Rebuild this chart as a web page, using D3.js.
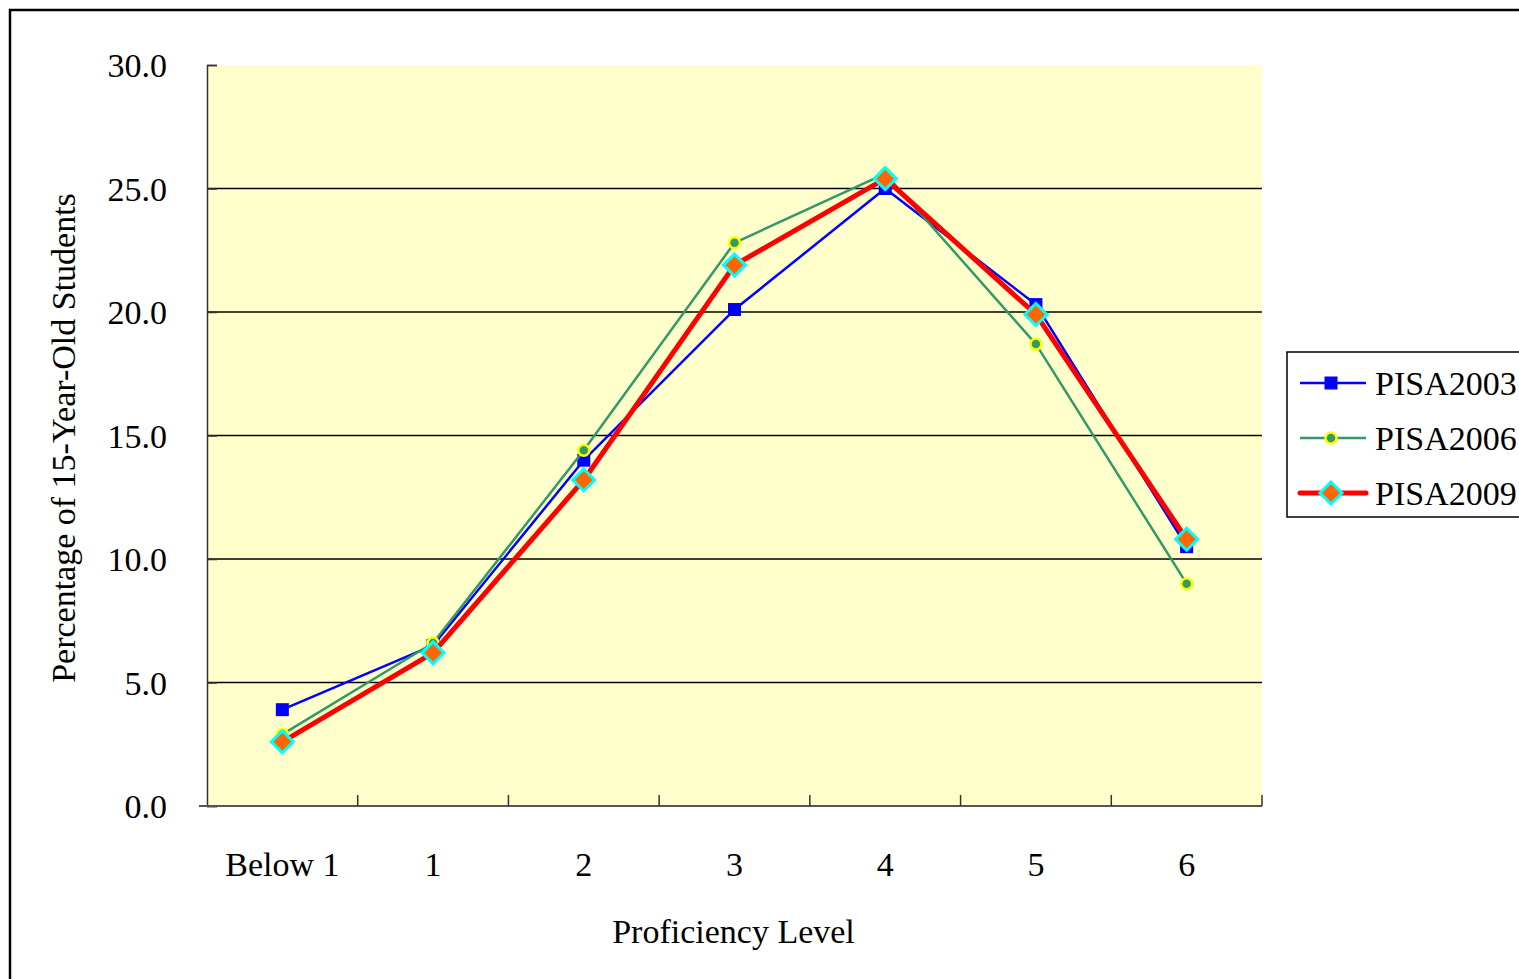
<!DOCTYPE html>
<html>
<head>
<meta charset="utf-8">
<script src="https://cdn.jsdelivr.net/npm/d3@7"></script>
<style>
  body { margin: 0; background: #fff; }
  text { font-family: "Liberation Serif", "DejaVu Serif", serif; fill: #000; }
</style>
</head>
<body>
<svg id="chart" width="1519" height="979"></svg>
<script>
const levels = ["Below 1", "1", "2", "3", "4", "5", "6"];
const pisa2003 = [3.9, 6.5, 14.0, 20.1, 25.0, 20.3, 10.5];
const pisa2006 = [2.9, 6.6, 14.4, 22.8, 25.6, 18.7, 9.0];
const pisa2009 = [2.6, 6.2, 13.2, 21.9, 25.4, 19.9, 10.8];
const yTicks = [0, 5, 10, 15, 20, 25, 30];
const seriesNames = ["PISA2003", "PISA2006", "PISA2009"];

const svg = d3.select("#chart");
const plot = { left: 207, right: 1262, top: 65, bottom: 806 };

// outer frame (runs off the right / bottom edge)
svg.append("rect")
   .attr("x", 10).attr("y", 10)
   .attr("width", 1540).attr("height", 1000)
   .attr("fill", "none").attr("stroke", "#000").attr("stroke-width", 2.5);

const x = d3.scaleBand().domain(levels).range([plot.left, plot.right]);
const y = d3.scaleLinear().domain([0, 30]).range([plot.bottom, plot.top]);

svg.append("rect")
   .attr("x", plot.left).attr("y", plot.top)
   .attr("width", plot.right - plot.left).attr("height", plot.bottom - plot.top)
   .attr("fill", "#FFFFCC");

// gridlines
svg.append("g").selectAll("line")
   .data(yTicks.filter(d => d > 0 && d < 30))
   .join("line")
   .attr("x1", plot.left).attr("x2", plot.right)
   .attr("y1", d => y(d)).attr("y2", d => y(d))
   .attr("stroke", "#000").attr("stroke-width", 1.5);

// y axis
const yAxis = svg.append("g")
   .attr("transform", `translate(${plot.left},0)`)
   .call(d3.axisLeft(y).tickValues(yTicks).tickFormat(d3.format(".1f")).tickSize(-10).tickPadding(40));
yAxis.select(".domain").attr("stroke", "#333").attr("stroke-width", 1.5);
yAxis.selectAll(".tick line").attr("stroke", "#333").attr("stroke-width", 1.5);
yAxis.selectAll("text").style("font-size", "34px").attr("font-family", null).attr("dy", "0.35em");

// x axis: ticks on category boundaries
const xAxisG = svg.append("g").attr("transform", `translate(0,${plot.bottom})`);
xAxisG.append("line")
   .attr("x1", plot.left - 8).attr("x2", plot.right)
   .attr("stroke", "#555").attr("stroke-width", 2);
xAxisG.selectAll("line.tk")
   .data(levels)
   .join("line")
   .attr("class", "tk")
   .attr("x1", d => x(d) + x.bandwidth()).attr("x2", d => x(d) + x.bandwidth())
   .attr("y1", 0).attr("y2", -11)
   .attr("stroke", "#333").attr("stroke-width", 1.5);
xAxisG.selectAll("text")
   .data(levels)
   .join("text")
   .attr("x", d => x(d) + x.bandwidth() / 2)
   .attr("y", 70)
   .attr("text-anchor", "middle")
   .style("font-size", "34px")
   .text(d => d);

// axis titles
svg.append("text")
   .attr("x", (plot.left + plot.right) / 2 - 1).attr("y", 943)
   .attr("text-anchor", "middle")
   .style("font-size", "34px")
   .text("Proficiency Level");
svg.append("text")
   .attr("transform", `translate(75,${438}) rotate(-90)`)
   .attr("text-anchor", "middle")
   .style("font-size", "34px")
   .text("Percentage of 15-Year-Old Students");

const cx = (d, i) => x(levels[i]) + x.bandwidth() / 2;
const line = d3.line().x((d, i) => cx(d, i)).y(d => y(d));

const series = [
  { name: seriesNames[0], values: pisa2003, color: "#0000FF", width: 2.5 },
  { name: seriesNames[1], values: pisa2006, color: "#339966", width: 2.5 },
  { name: seriesNames[2], values: pisa2009, color: "#FF0000", width: 5 }
];

function drawMarker(g, idx) {
  if (idx === 0) {
    g.append("rect").attr("x", -6.5).attr("y", -6.5).attr("width", 13).attr("height", 13)
     .attr("fill", "#0000FF");
  } else if (idx === 1) {
    g.append("circle").attr("r", 5.5).attr("fill", "#339966")
     .attr("stroke", "#FFFF00").attr("stroke-width", 2.5);
  } else {
    g.append("path").attr("d", "M0,-11L11,0L0,11L-11,0Z")
     .attr("fill", "#FF6600").attr("stroke", "#00FFFF").attr("stroke-width", 3);
  }
}

series.forEach((s, si) => {
  const g = svg.append("g");
  g.append("path")
   .datum(s.values)
   .attr("d", line)
   .attr("fill", "none")
   .attr("stroke", s.color)
   .attr("stroke-width", s.width)
   .attr("stroke-linejoin", "round");
  g.selectAll("g.mk")
   .data(s.values)
   .join("g")
   .attr("class", "mk")
   .attr("transform", (d, i) => `translate(${cx(d, i)},${y(d)})`)
   .each(function() { drawMarker(d3.select(this), si); });
});

// legend
const legend = svg.append("g");
legend.append("rect")
   .attr("x", 1287).attr("y", 352).attr("width", 260).attr("height", 165)
   .attr("fill", "#fff").attr("stroke", "#000").attr("stroke-width", 1.5);
series.forEach((s, si) => {
  const ly = 383 + si * 55;
  const item = legend.append("g");
  item.append("line")
      .attr("x1", 1300).attr("x2", 1366).attr("y1", ly).attr("y2", ly)
      .attr("stroke", s.color).attr("stroke-width", s.width)
      .attr("stroke-linecap", si === 2 ? "round" : "butt");
  const m = item.append("g").attr("transform", `translate(1331,${ly})`);
  drawMarker(m, si);
  item.append("text")
      .attr("x", 1375).attr("y", ly + 12)
      .style("font-size", "34px")
      .text(s.name);
});
</script>
</body>
</html>
